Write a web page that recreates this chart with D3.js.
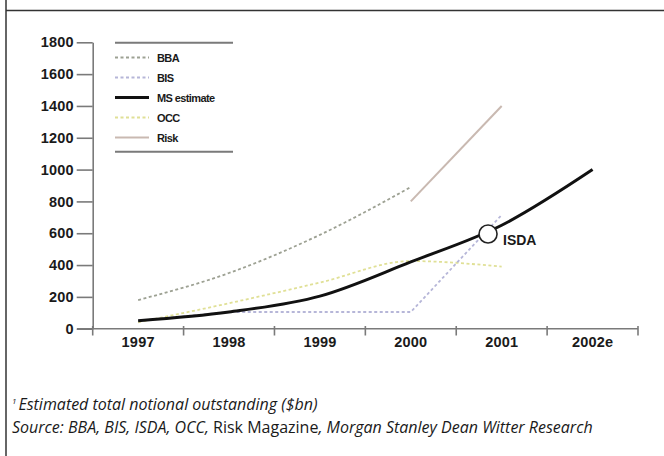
<!DOCTYPE html>
<html><head><meta charset="utf-8">
<script src="https://cdn.jsdelivr.net/npm/d3@7"></script>
<style>
html,body{margin:0;padding:0;background:#fff;}
svg{display:block;}
</style></head>
<body>
<svg id="c" width="664" height="456"></svg>
<script>
const years = ["1997","1998","1999","2000","2001","2002e"];
const yTicks = [0,200,400,600,800,1000,1200,1400,1600,1800];
const seriesNames = ["BBA","BIS","MS estimate","OCC","Risk"];
const bba = [180, 350, 590, 890];
const bis = [50, 105, 105, 105, 715];
const msEstimate = [50, 105, 205, 420, 650, 1000];
const occ = [40, 160, 290, 425, 390];
const risk = [null, null, null, 800, 1400];
const isdaYear = "2001", isdaValue = 595, isdaLabel = "ISDA";
const footnote1 = "Estimated total notional outstanding ($bn)";

const svg = d3.select("#c");
// frame
svg.append("line").attr("x1",6).attr("x2",6).attr("y1",0).attr("y2",456).attr("stroke","#333").attr("stroke-width",1.5);
svg.append("line").attr("x1",6).attr("x2",664).attr("y1",10.5).attr("y2",10.5).attr("stroke","#333").attr("stroke-width",1.5);

const x = d3.scaleBand().domain(years).range([92.7, 638]);
const y = d3.scaleLinear().domain([0,1800]).range([328.7, 42.3]);
const cx = d => x(d) + x.bandwidth()/2;
const axisCol = "#7a7a7a";
const labFont = "'Liberation Sans', Arial, sans-serif";

// y axis
const ya = svg.append("g").attr("transform","translate(92.7,0)")
  .call(d3.axisLeft(y).tickValues(yTicks).tickSize(16).tickPadding(3).tickSizeOuter(0).tickFormat(d3.format("d")));
ya.select(".domain").attr("stroke",axisCol).attr("stroke-width",1.6);
ya.selectAll(".tick line").attr("stroke",axisCol).attr("stroke-width",1.6);
ya.selectAll(".tick text").attr("font-family",labFont).attr("font-weight","bold").attr("font-size",14.5).attr("fill","#1a1a1a").attr("letter-spacing","0.2");

// x axis
const xa = svg.append("g").attr("transform","translate(0,328.7)")
  .call(d3.axisBottom(x).tickSize(0).tickPadding(8));
xa.select(".domain").remove();
xa.selectAll(".tick text").attr("font-family",labFont).attr("font-weight","bold").attr("font-size",14.5).attr("fill","#1a1a1a").attr("letter-spacing","0.2");
svg.append("line").attr("x1",77).attr("x2",x.range()[1]).attr("y1",328.7).attr("y2",328.7).attr("stroke",axisCol).attr("stroke-width",1.6);
const edges = years.map(d=>x(d)).concat([x.range()[1]]);
svg.selectAll(".edge").data(edges).enter().append("line")
  .attr("x1",d=>d).attr("x2",d=>d).attr("y1",326).attr("y2",335.5)
  .attr("stroke",axisCol).attr("stroke-width",1.6);

// lines
const toPts = vals => vals.map((v,i)=>({k:years[i], v}));
const mk = curve => d3.line().defined(d=>d.v!=null).x(d=>cx(d.k)).y(d=>y(d.v)).curve(curve);
const styles = {
  "BBA": {data:bba, color:"#9da193", w:1.8, dash:"3,2.5", curve:d3.curveMonotoneX},
  "BIS": {data:bis, color:"#b6b6d8", w:1.8, dash:"3,2.5", curve:d3.curveLinear},
  "OCC": {data:occ, color:"#e0e096", w:1.8, dash:"3,2.5", curve:d3.curveMonotoneX},
  "Risk": {data:risk, color:"#c9b9b1", w:2, dash:null, curve:d3.curveLinear},
  "MS estimate": {data:msEstimate, color:"#111", w:3, dash:null, curve:d3.curveMonotoneX}
};
["BBA","OCC","BIS","Risk","MS estimate"].forEach(n=>{
  const s = styles[n];
  svg.append("path").attr("d",mk(s.curve)(toPts(s.data)))
    .attr("fill","none").attr("stroke",s.color).attr("stroke-width",s.w)
    .attr("stroke-dasharray",s.dash);
});

// ISDA marker (sits slightly before the 2001 point, on the MS curve)
const isdaX = cx(isdaYear) - 0.15*x.bandwidth();
svg.append("circle").attr("cx",isdaX).attr("cy",y(isdaValue)).attr("r",9)
  .attr("fill","#fff").attr("stroke","#222").attr("stroke-width",1.6);
svg.append("text").attr("x",isdaX+15).attr("y",y(isdaValue)+11).text(isdaLabel)
  .attr("font-family",labFont).attr("font-weight","bold").attr("font-size",14).attr("fill","#1a1a1a");

// legend
const lg = svg.append("g");
lg.append("line").attr("x1",115).attr("x2",233).attr("y1",42.7).attr("y2",42.7).attr("stroke",axisCol).attr("stroke-width",2);
lg.append("line").attr("x1",115).attr("x2",233).attr("y1",151.7).attr("y2",151.7).attr("stroke",axisCol).attr("stroke-width",2);
seriesNames.forEach((n,i)=>{
  const s = styles[n];
  const yy = 57.5 + i*20;
  lg.append("line").attr("x1",115).attr("x2",149).attr("y1",yy).attr("y2",yy)
    .attr("stroke",s.color).attr("stroke-width",s.w).attr("stroke-dasharray",s.dash);
  lg.append("text").attr("x",157).attr("y",yy+4.5).text(n)
    .attr("font-family",labFont).attr("font-weight","bold").attr("font-size",11).attr("fill","#1a1a1a").attr("letter-spacing","-0.6");
});

// footnotes
const fFont = "'Open Sans', 'Noto Sans', sans-serif";
const f1 = svg.append("text").attr("x",12).attr("y",410).attr("font-family",fFont).attr("font-size",16).attr("fill","#1a1a1a");
f1.append("tspan").text("1").attr("font-size",8).attr("dy",-6).attr("font-style","italic");
f1.append("tspan").text(footnote1).attr("font-style","italic").attr("dy",6).attr("dx",2);
const f2 = svg.append("text").attr("x",12).attr("y",433).attr("font-family",fFont).attr("font-size",16).attr("fill","#1a1a1a");
f2.append("tspan").text("Source: BBA, BIS, ISDA, OCC, ").attr("font-style","italic");
f2.append("tspan").text("Risk Magazine").attr("font-style","normal");
f2.append("tspan").text(", Morgan Stanley Dean Witter Research").attr("font-style","italic");
</script>
</body></html>
